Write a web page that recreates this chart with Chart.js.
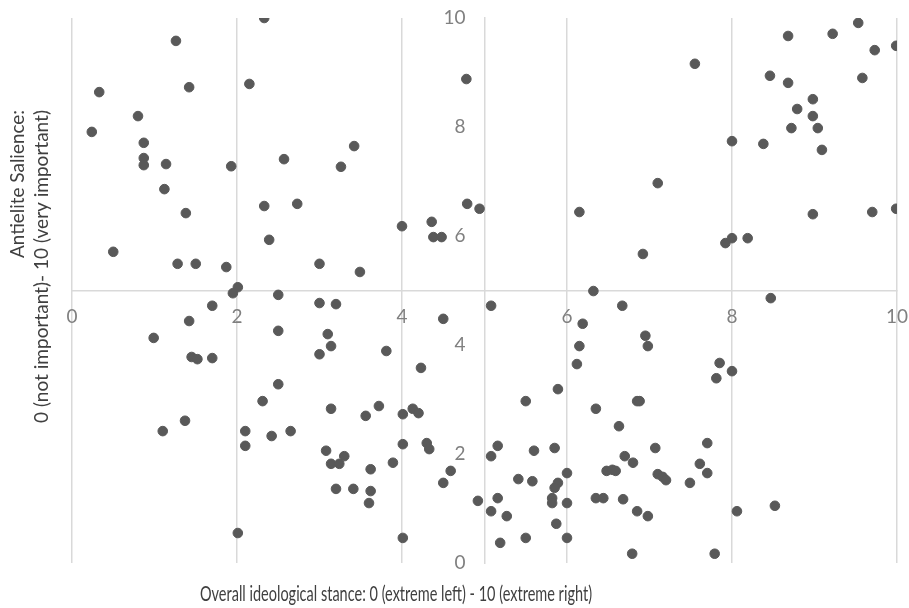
<!DOCTYPE html>
<html>
<head>
<meta charset="utf-8">
<script src="https://cdn.jsdelivr.net/npm/chart.js@4/dist/chart.umd.min.js"></script>
<style>
 html,body{margin:0;padding:0;background:#fff;}
 #wrap{width:909px;height:608px;}
</style>
</head>
<body>
<div id="wrap"><canvas id="myChart"></canvas></div>
<script>
// overall ideological stance (x) and antielite salience (y), one pair per respondent
const ideology=[
 0.24,0.33,0.50,0.80,0.87,0.87,0.87,1.14,1.12,1.26,1.38,1.42,1.28,1.50,1.87,1.93,2.15,2.33,2.33,2.39,
 2.57,2.73,3.00,3.26,3.42,3.49,4.00,4.36,4.38,4.48,4.78,4.79,4.94,1.95,2.01,2.50,6.15,6.32,
 8.68,9.22,9.53,9.73,9.99,7.55,8.46,8.68,9.58,8.98,8.79,8.98,8.72,9.04,8.00,8.38,9.09,7.10,8.98,9.70,
 9.99,6.92,7.92,8.00,8.19,8.47,
 1.70,1.42,0.99,1.45,1.52,1.70,2.50,2.50,2.31,1.37,1.10,2.10,2.10,2.42,2.65,2.01,
 3.00,3.20,4.50,5.08,3.10,3.14,3.00,3.81,4.23,6.19,6.15,6.12,5.89,5.50,6.35,3.14,3.56,3.72,4.01,4.13,
 4.20,4.01,4.30,4.33,3.08,3.14,3.24,3.30,3.62,3.89,4.59,4.50,3.20,3.41,3.62,3.60,4.01,5.08,5.16,5.60,
 5.85,4.92,5.16,5.08,5.27,5.41,5.58,6.00,5.89,5.85,5.82,5.82,6.00,5.87,5.50,5.19,6.00,6.35,
 6.67,6.95,6.98,7.85,8.00,7.81,6.85,6.88,6.63,7.07,7.70,6.70,6.80,6.48,6.55,6.59,7.10,7.16,7.20,7.61,
 7.70,7.49,6.44,6.68,6.85,6.98,8.06,8.52,6.79,7.79
];
const salience=[
 7.91,8.64,5.71,8.20,7.71,7.43,7.30,7.32,6.86,9.58,6.42,8.73,5.49,5.49,5.43,7.28,8.79,10.0,6.55,5.93,
 7.41,6.59,5.49,7.27,7.65,5.34,6.18,6.26,5.98,5.98,8.88,6.59,6.50,4.95,5.06,4.92,6.44,4.99,
 9.67,9.71,9.91,9.41,9.49,9.16,8.94,8.81,8.90,8.51,8.33,8.20,7.98,7.98,7.74,7.69,7.58,6.97,6.40,6.44,
 6.50,5.67,5.87,5.96,5.96,4.86,
 4.72,4.44,4.13,3.78,3.74,3.76,4.26,3.28,2.97,2.61,2.42,2.42,2.15,2.33,2.42,0.55,
 4.77,4.75,4.48,4.72,4.20,3.98,3.83,3.89,3.58,4.39,3.98,3.65,3.19,2.97,2.83,2.83,2.70,2.88,2.73,2.83,
 2.75,2.18,2.20,2.09,2.06,1.82,1.82,1.96,1.72,1.84,1.69,1.47,1.36,1.36,1.32,1.10,0.46,1.96,2.15,2.06,
 2.11,1.14,1.19,0.95,0.86,1.54,1.50,1.65,1.47,1.38,1.19,1.10,1.10,0.72,0.46,0.37,0.46,1.19,
 4.72,4.17,3.98,3.67,3.52,3.39,2.97,2.97,2.51,2.11,2.20,1.96,1.84,1.69,1.71,1.69,1.63,1.58,1.52,1.82,
 1.65,1.47,1.19,1.17,0.95,0.86,0.95,1.05,0.17,0.17
];
const xTitle='Overall ideological stance: 0 (extreme left) - 10 (extreme right)';
const yTitle=['Antielite Salience:','0 (not important)- 10 (very important)'];

const points=ideology.map((x,i)=>({x:x,y:salience[i]}));

// draw text squeezed/stretched to a given length
function fitText(c,txt,w){
 const m=c.measureText(txt).width;
 c.save();
 c.scale(w/m,1);
 c.fillText(txt,0,0);
 c.restore();
}

const axisTitles={
 id:'axisTitles',
 afterDraw(chart){
  const c=chart.ctx;
  c.save();
  c.fillStyle='#404040';
  c.textBaseline='middle';
  c.font='22px Lato';
  c.textAlign='center';
  c.save();
  c.translate(396,594);
  fitText(c,xTitle,392);
  c.restore();
  c.font='19px Lato';
  c.textAlign='right';
  c.save();
  c.translate(18,110);
  c.rotate(-Math.PI/2);
  fitText(c,yTitle[0],148);
  c.restore();
  c.save();
  c.translate(42,110);
  c.rotate(-Math.PI/2);
  fitText(c,yTitle[1],313);
  c.restore();
  c.restore();
 }
};

const ctx=document.getElementById('myChart');
new Chart(ctx,{
 type:'scatter',
 data:{
  datasets:[{
   data:points,
   backgroundColor:'#595959',
   borderColor:'#595959',
   pointRadius:4.8,
   borderWidth:1
  }]
 },
 options:{
  responsive:true,
  maintainAspectRatio:false,
  animation:false,
  layout:{padding:{left:72,top:18,right:12,bottom:45}},
  plugins:{legend:{display:false},tooltip:{enabled:false}},
  scales:{
   x:{
    type:'linear',min:0,max:10,
    position:{y:5},
    afterFit:(s)=>{s.height=0;s.paddingLeft=0;s.paddingRight=0;},
    ticks:{stepSize:2,padding:15,color:'#808080',font:{family:'Lato',size:19}},
    grid:{color:'#d9d9d9',lineWidth:1.5,drawTicks:false},
    border:{color:'#d9d9d9',width:1.5}
   },
   y:{
    type:'linear',min:0,max:10,
    position:{x:5},
    afterFit:(s)=>{s.width=0;s.paddingTop=0;s.paddingBottom=0;},
    ticks:{stepSize:2,color:'#808080',font:{family:'Lato',size:19},
     callback:(v)=>v+'\u2002\u2002'},
    grid:{display:false,drawTicks:false},
    border:{color:'#d9d9d9',width:1.5}
   }
  }
 },
 plugins:[axisTitles]
});
</script>
</body>
</html>
